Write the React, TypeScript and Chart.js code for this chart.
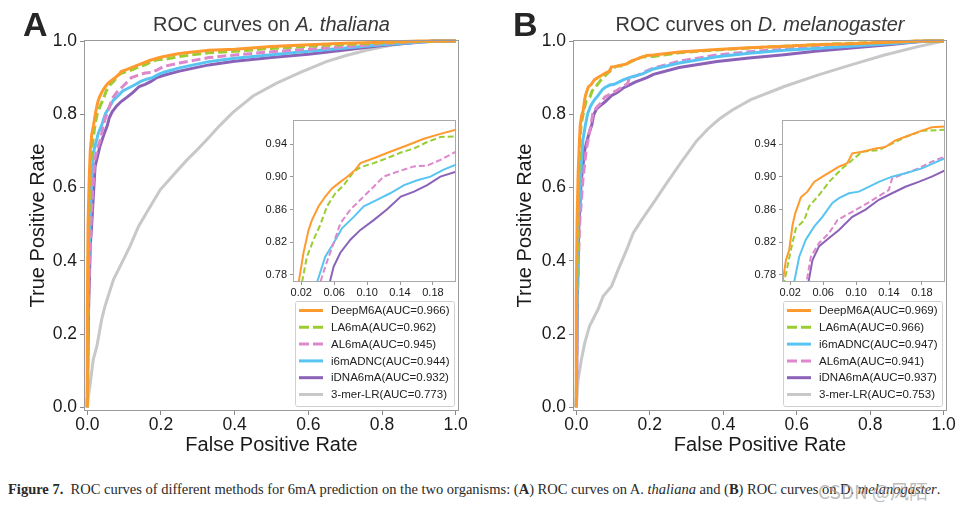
import React, { useEffect, useRef } from 'react';
import { Chart, registerables } from 'chart.js';

Chart.register(...registerables);

const FONT = '"Liberation Sans", Arial, Helvetica, sans-serif';

// ---------- tick labels ----------
const mainTicks = [0, 0.2, 0.4, 0.6, 0.8, 1.0];
const insetXTicks = [0.02, 0.06, 0.1, 0.14, 0.18];
const insetYTicks = [0.78, 0.82, 0.86, 0.9, 0.94];

// ---------- legends ----------
const labelsA = ['DeepM6A(AUC=0.966)', 'LA6mA(AUC=0.962)', 'AL6mA(AUC=0.945)', 'i6mADNC(AUC=0.944)', 'iDNA6mA(AUC=0.932)', '3-mer-LR(AUC=0.773)'];
const labelsB = ['DeepM6A(AUC=0.969)', 'LA6mA(AUC=0.966)', 'i6mADNC(AUC=0.947)', 'AL6mA(AUC=0.941)', 'iDNA6mA(AUC=0.937)', '3-mer-LR(AUC=0.753)'];

// ---------- Panel A (A. thaliana) ----------
const fprA_DeepM6A = [0, 0, 0.002, 0.005, 0.008, 0.012, 0.0168, 0.0228, 0.0289, 0.033, 0.0411, 0.0492, 0.0574, 0.0675, 0.0756, 0.0858, 0.0919, 0.108, 0.128, 0.149, 0.169, 0.189, 0.208, 0.25, 0.33, 0.4, 0.5, 0.6, 0.7, 0.8, 0.9, 1];
const tprA_DeepM6A = [0, 0.25, 0.5, 0.62, 0.7, 0.745, 0.77, 0.807, 0.835, 0.847, 0.864, 0.876, 0.886, 0.894, 0.9, 0.909, 0.917, 0.923, 0.931, 0.939, 0.947, 0.953, 0.958, 0.966, 0.975, 0.978, 0.985, 0.99, 0.994, 0.997, 1, 1];

const fprA_LA6mA = [0, 0.001, 0.004, 0.008, 0.012, 0.016, 0.0208, 0.0269, 0.035, 0.0431, 0.0513, 0.0614, 0.0716, 0.0838, 0.0919, 0.108, 0.124, 0.141, 0.157, 0.173, 0.189, 0.208, 0.25, 0.33, 0.4, 0.5, 0.6, 0.7, 0.8, 0.9, 1];
const tprA_LA6mA = [0, 0.3, 0.5, 0.65, 0.703, 0.735, 0.77, 0.802, 0.823, 0.841, 0.864, 0.88, 0.89, 0.9066, 0.912, 0.917, 0.923, 0.93, 0.935, 0.943, 0.949, 0.95, 0.958, 0.968, 0.972, 0.98, 0.986, 0.991, 0.995, 0.999, 1];

const fprA_AL6mA = [0, 0.003, 0.01, 0.015, 0.021, 0.03, 0.037, 0.043, 0.0492, 0.0594, 0.0675, 0.0797, 0.0919, 0.108, 0.12, 0.137, 0.157, 0.173, 0.189, 0.208, 0.25, 0.33, 0.4, 0.5, 0.6, 0.7, 0.8, 0.9, 1];
const tprA_AL6mA = [0, 0.3, 0.494, 0.6, 0.68, 0.715, 0.735, 0.77, 0.79, 0.819, 0.843, 0.86, 0.872, 0.888, 0.9004, 0.9066, 0.913, 0.914, 0.921, 0.931, 0.94, 0.955, 0.962, 0.971, 0.978, 0.985, 0.993, 0.998, 1];

const fprA_i6mADNC = [0, 0.002, 0.007, 0.012, 0.016, 0.03, 0.039, 0.0492, 0.0594, 0.0695, 0.0838, 0.096, 0.112, 0.128, 0.145, 0.161, 0.177, 0.193, 0.208, 0.25, 0.33, 0.4, 0.5, 0.6, 0.7, 0.8, 0.9, 0.95, 1];
const tprA_i6mADNC = [0, 0.3, 0.494, 0.62, 0.694, 0.749, 0.77, 0.802, 0.819, 0.837, 0.851, 0.864, 0.872, 0.88, 0.89, 0.896, 0.9004, 0.909, 0.915, 0.927, 0.944, 0.953, 0.963, 0.972, 0.981, 0.99, 0.997, 1, 1];

const fprA_iDNA6mA = [0, 0.003, 0.008, 0.012, 0.021, 0.034, 0.045, 0.0545, 0.0594, 0.0675, 0.0797, 0.0919, 0.108, 0.124, 0.141, 0.157, 0.173, 0.189, 0.208, 0.25, 0.33, 0.4, 0.5, 0.6, 0.7, 0.8, 0.9, 0.94, 1];
const tprA_iDNA6mA = [0, 0.25, 0.44, 0.5, 0.657, 0.712, 0.745, 0.77, 0.79, 0.807, 0.823, 0.835, 0.847, 0.86, 0.876, 0.882, 0.89, 0.9004, 0.9066, 0.918, 0.935, 0.945, 0.955, 0.964, 0.976, 0.988, 0.997, 1, 1];

const fprA_3merLR = [0, 0.003, 0.007, 0.016, 0.026, 0.039, 0.048, 0.071, 0.089, 0.116, 0.139, 0.16, 0.198, 0.23, 0.27, 0.3, 0.333, 0.36, 0.396, 0.45, 0.514, 0.58, 0.649, 0.7, 0.758, 0.82, 0.894, 0.95, 1];
const tprA_3merLR = [0, 0.03, 0.058, 0.13, 0.167, 0.24, 0.276, 0.349, 0.385, 0.44, 0.494, 0.53, 0.594, 0.63, 0.675, 0.705, 0.74, 0.77, 0.806, 0.85, 0.885, 0.915, 0.944, 0.96, 0.975, 0.988, 0.998, 1, 1];

// ---------- Panel B (D. melanogaster) ----------
const fprB_DeepM6A = [0, 0, 0.002, 0.005, 0.009, 0.0107, 0.0148, 0.0188, 0.0228, 0.026, 0.0329, 0.0409, 0.049, 0.0591, 0.0692, 0.0792, 0.0893, 0.0954, 0.1075, 0.1236, 0.1357, 0.1478, 0.1639, 0.18, 0.192, 0.21, 0.28, 0.383, 0.47, 0.566, 0.65, 0.748, 0.85, 0.93, 1];
const tprB_DeepM6A = [0, 0.3, 0.5, 0.64, 0.739, 0.771, 0.798, 0.8106, 0.841, 0.855, 0.875, 0.882, 0.894, 0.9004, 0.9066, 0.9127, 0.917, 0.929, 0.931, 0.935, 0.937, 0.945, 0.951, 0.957, 0.961, 0.962, 0.97, 0.977, 0.982, 0.986, 0.99, 0.993, 0.997, 1, 1];

const fprB_LA6mA = [0, 0.001, 0.004, 0.006, 0.009, 0.0127, 0.0208, 0.0269, 0.037, 0.043, 0.0551, 0.0672, 0.0772, 0.0833, 0.0954, 0.1075, 0.1276, 0.1437, 0.1599, 0.18, 0.21, 0.28, 0.383, 0.47, 0.566, 0.65, 0.748, 0.85, 0.93, 1];
const tprB_LA6mA = [0, 0.3, 0.5, 0.6, 0.7, 0.771, 0.8106, 0.837, 0.847, 0.864, 0.878, 0.894, 0.9045, 0.9106, 0.921, 0.931, 0.933, 0.941, 0.949, 0.9567, 0.958, 0.968, 0.976, 0.981, 0.986, 0.99, 0.994, 0.997, 1, 1];

const fprB_i6mADNC = [0, 0.002, 0.005, 0.011, 0.018, 0.0248, 0.0309, 0.0389, 0.049, 0.0591, 0.0712, 0.0792, 0.0913, 0.1034, 0.1196, 0.1276, 0.1437, 0.1599, 0.18, 0.21, 0.28, 0.383, 0.47, 0.566, 0.65, 0.748, 0.85, 0.95, 1];
const tprB_i6mADNC = [0, 0.3, 0.5, 0.621, 0.73, 0.771, 0.802, 0.823, 0.839, 0.851, 0.868, 0.874, 0.88, 0.882, 0.89, 0.894, 0.9004, 0.9045, 0.9106, 0.924, 0.94, 0.957, 0.967, 0.975, 0.98, 0.986, 0.993, 1, 1];

const fprB_AL6mA = [0, 0.003, 0.009, 0.018, 0.027, 0.035, 0.0398, 0.045, 0.0551, 0.0672, 0.0772, 0.0913, 0.1075, 0.1236, 0.1397, 0.1437, 0.1599, 0.176, 0.192, 0.21, 0.28, 0.383, 0.47, 0.566, 0.65, 0.748, 0.85, 0.95, 1];
const tprB_AL6mA = [0, 0.3, 0.5, 0.621, 0.703, 0.745, 0.771, 0.802, 0.819, 0.831, 0.847, 0.855, 0.864, 0.874, 0.884, 0.898, 0.9045, 0.9106, 0.9188, 0.926, 0.945, 0.962, 0.971, 0.978, 0.983, 0.988, 0.994, 1, 1];

const fprB_iDNA6mA = [0, 0.003, 0.007, 0.0137, 0.023, 0.035, 0.0422, 0.047, 0.0551, 0.0672, 0.0792, 0.0954, 0.1115, 0.1276, 0.1437, 0.1599, 0.176, 0.192, 0.21, 0.28, 0.383, 0.47, 0.566, 0.65, 0.748, 0.85, 0.93, 0.97, 1];
const tprB_iDNA6mA = [0, 0.3, 0.5, 0.621, 0.703, 0.75, 0.771, 0.798, 0.815, 0.825, 0.835, 0.851, 0.86, 0.872, 0.88, 0.888, 0.894, 0.9004, 0.909, 0.928, 0.944, 0.954, 0.963, 0.972, 0.981, 0.99, 0.998, 1, 1];

const fprB_3merLR = [0, 0, 0.005, 0.014, 0.023, 0.036, 0.059, 0.073, 0.096, 0.114, 0.137, 0.155, 0.178, 0.21, 0.246, 0.29, 0.328, 0.36, 0.39, 0.425, 0.475, 0.566, 0.657, 0.748, 0.839, 0.93, 1];
const tprB_3merLR = [0, 0.004, 0.076, 0.131, 0.176, 0.222, 0.267, 0.303, 0.331, 0.376, 0.43, 0.476, 0.512, 0.558, 0.612, 0.676, 0.728, 0.762, 0.788, 0.812, 0.84, 0.876, 0.907, 0.935, 0.962, 0.985, 1];

const fprsA = [fprA_DeepM6A, fprA_LA6mA, fprA_AL6mA, fprA_i6mADNC, fprA_iDNA6mA, fprA_3merLR];
const tprsA = [tprA_DeepM6A, tprA_LA6mA, tprA_AL6mA, tprA_i6mADNC, tprA_iDNA6mA, tprA_3merLR];
const fprsB = [fprB_DeepM6A, fprB_LA6mA, fprB_i6mADNC, fprB_AL6mA, fprB_iDNA6mA, fprB_3merLR];
const tprsB = [tprB_DeepM6A, tprB_LA6mA, tprB_i6mADNC, tprB_AL6mA, tprB_iDNA6mA, tprB_3merLR];

// ---------- styles ----------
const STYLE: Record<string, { color: string; dashed: boolean }> = {
  DeepM6A: { color: '#FF9A2E', dashed: false },
  LA6mA: { color: '#9ACD32', dashed: true },
  AL6mA: { color: '#DD88CC', dashed: true },
  i6mADNC: { color: '#58C4F2', dashed: false },
  iDNA6mA: { color: '#8B62B8', dashed: false },
  '3-mer-LR': { color: '#C8C8C8', dashed: false },
};

function makeDatasets(labels: string[], fprs: number[][], tprs: number[][], inset: boolean) {
  return labels.map((label, i) => {
    const st = STYLE[label.split('(')[0]];
    return {
      label,
      data: fprs[i].map((x, j) => ({ x, y: tprs[i][j] })),
      borderColor: st.color,
      backgroundColor: st.color,
      borderWidth: inset ? 2 : 3,
      borderDash: st.dashed ? (inset ? [6, 3] : [9, 4]) : [],
      pointRadius: 0,
      tension: 0,
      fill: false,
      clip: inset ? 0 : 2,
    };
  });
}

const framePlugin = {
  id: 'frame',
  beforeDraw(chart: any, _a: any, opts: any) {
    if (opts && opts.fill) {
      const { ctx, chartArea: c } = chart;
      ctx.save();
      ctx.fillStyle = '#ffffff';
      ctx.fillRect(c.left, c.top, c.right - c.left, c.bottom - c.top);
      ctx.restore();
    }
  },
  afterDatasetsDraw(chart: any, _a: any, opts: any) {
    const { ctx, chartArea: c } = chart;
    ctx.save();
    ctx.strokeStyle = (opts && opts.color) || '#999';
    ctx.lineWidth = 1;
    ctx.strokeRect(Math.round(c.left) + 0.5, Math.round(c.top) + 0.5, Math.round(c.right - c.left) - 1, Math.round(c.bottom - c.top) - 1);
    ctx.restore();
  },
};

const legendPlugin = {
  id: 'boxLegend',
  afterDraw(chart: any, _a: any, opts: any) {
    if (!opts || !opts.show) return;
    const { ctx, chartArea: c } = chart;
    const w = 159, h = 105;
    const right = c.right - 5, bottom = c.bottom - 5;
    const left = right - w, top = bottom - h;
    ctx.save();
    ctx.fillStyle = 'rgba(255,255,255,0.85)';
    ctx.strokeStyle = '#d0d0d0';
    ctx.lineWidth = 1;
    const r = 2;
    ctx.beginPath();
    ctx.moveTo(left + r + 0.5, top + 0.5);
    ctx.lineTo(right - r + 0.5, top + 0.5);
    ctx.quadraticCurveTo(right + 0.5, top + 0.5, right + 0.5, top + r + 0.5);
    ctx.lineTo(right + 0.5, bottom - r + 0.5);
    ctx.quadraticCurveTo(right + 0.5, bottom + 0.5, right - r + 0.5, bottom + 0.5);
    ctx.lineTo(left + r + 0.5, bottom + 0.5);
    ctx.quadraticCurveTo(left + 0.5, bottom + 0.5, left + 0.5, bottom - r + 0.5);
    ctx.lineTo(left + 0.5, top + r + 0.5);
    ctx.quadraticCurveTo(left + 0.5, top + 0.5, left + r + 0.5, top + 0.5);
    ctx.closePath();
    ctx.fill();
    ctx.stroke();
    ctx.font = `11.5px ${FONT}`;
    ctx.textBaseline = 'middle';
    ctx.textAlign = 'left';
    chart.data.datasets.forEach((ds: any, i: number) => {
      const y = top + 9.5 + i * 16.8;
      ctx.strokeStyle = ds.borderColor;
      ctx.lineWidth = 3;
      ctx.setLineDash(ds.borderDash && ds.borderDash.length ? [10, 4] : []);
      ctx.beginPath();
      ctx.moveTo(left + 4, y);
      ctx.lineTo(left + 28, y);
      ctx.stroke();
      ctx.setLineDash([]);
      ctx.fillStyle = '#222';
      ctx.fillText(ds.label, left + 36, y + 0.5);
    });
    ctx.restore();
  },
};

const titlePlugin = {
  id: 'panelTitle',
  afterDraw(chart: any, _a: any, opts: any) {
    if (!opts || !opts.letter) return;
    const { ctx, chartArea: c } = chart;
    ctx.save();
    ctx.fillStyle = '#262626';
    ctx.font = `bold 34px ${FONT}`;
    ctx.textBaseline = 'alphabetic';
    ctx.textAlign = 'left';
    ctx.fillText(opts.letter, opts.letterX, 36);
    const parts: { t: string; it: boolean }[] = opts.parts;
    const fontOf = (it: boolean) => `${it ? 'italic ' : ''}20px ${FONT}`;
    let total = 0;
    parts.forEach((p) => { ctx.font = fontOf(p.it); total += ctx.measureText(p.t).width; });
    let x = (c.left + c.right) / 2 - total / 2;
    ctx.fillStyle = '#383838';
    parts.forEach((p) => {
      ctx.font = fontOf(p.it);
      ctx.fillText(p.t, x, 31);
      x += ctx.measureText(p.t).width;
    });
    ctx.restore();
  },
};

function mainConfig(datasets: any[], o: { yWidth: number; padRight: number; yTitlePad: number; letter: string; letterX: number; parts: any[] }) {
  const tickFont = { family: FONT, size: 17.5 };
  const titleFont = { family: FONT, size: 20 };
  return {
    type: 'line' as const,
    data: { datasets },
    options: {
      animation: false as const,
      responsive: false,
      maintainAspectRatio: false,
      events: [],
      layout: { padding: { top: 40, right: o.padRight, left: 0, bottom: 0 } },
      plugins: {
        legend: { display: false },
        tooltip: { enabled: false },
        frame: { color: '#9a9a9a' },
        boxLegend: { show: true },
        panelTitle: { letter: o.letter, letterX: o.letterX, parts: o.parts },
      },
      scales: {
        x: {
          type: 'linear' as const,
          min: -0.009,
          max: 1.009,
          afterFit: (s: any) => { s.height = 59; },
          afterBuildTicks: (s: any) => { s.ticks = mainTicks.map((v) => ({ value: v })); },
          ticks: { callback: (v: any) => Number(v).toFixed(1), font: tickFont, color: '#1a1a1a', padding: 0, maxRotation: 0, autoSkip: false },
          grid: { display: true, drawOnChartArea: false, drawTicks: true, tickLength: 4, tickColor: '#888' },
          border: { display: false },
          title: { display: true, text: 'False Positive Rate', font: titleFont, color: '#1a1a1a', padding: { top: 0, bottom: 13 } },
        },
        y: {
          type: 'linear' as const,
          min: -0.01,
          max: 1.003,
          afterFit: (s: any) => { s.width = o.yWidth; },
          afterBuildTicks: (s: any) => { s.ticks = mainTicks.map((v) => ({ value: v })); },
          ticks: { callback: (v: any) => Number(v).toFixed(1), font: tickFont, color: '#1a1a1a', padding: 3, autoSkip: false },
          grid: { display: true, drawOnChartArea: false, drawTicks: true, tickLength: 4, tickColor: '#888' },
          border: { display: false },
          title: { display: true, text: 'True Positive Rate', font: titleFont, color: '#1a1a1a', padding: { top: o.yTitlePad, bottom: 0 } },
        },
      },
    },
    plugins: [framePlugin, legendPlugin, titlePlugin],
  };
}

function insetConfig(datasets: any[], o: { yWidth: number; padRight: number }) {
  const tickFont = { family: FONT, size: 11 };
  return {
    type: 'line' as const,
    data: { datasets },
    options: {
      animation: false as const,
      responsive: false,
      maintainAspectRatio: false,
      events: [],
      layout: { padding: { top: 10, right: o.padRight, left: 0, bottom: 0 } },
      plugins: {
        legend: { display: false },
        tooltip: { enabled: false },
        frame: { color: '#aaaaaa', fill: true },
      },
      scales: {
        x: {
          type: 'linear' as const,
          min: 0.01,
          max: 0.208,
          afterFit: (s: any) => { s.height = 23; },
          afterBuildTicks: (s: any) => { s.ticks = insetXTicks.map((v) => ({ value: v })); },
          ticks: { callback: (v: any) => Number(v).toFixed(2), font: tickFont, color: '#1a1a1a', padding: 1, maxRotation: 0, autoSkip: false },
          grid: { display: true, drawOnChartArea: false, drawTicks: true, tickLength: 3, tickColor: '#999' },
          border: { display: false },
        },
        y: {
          type: 'linear' as const,
          min: 0.771,
          max: 0.97,
          afterFit: (s: any) => { s.width = o.yWidth; },
          afterBuildTicks: (s: any) => { s.ticks = insetYTicks.map((v) => ({ value: v })); },
          ticks: { callback: (v: any) => Number(v).toFixed(2), font: tickFont, color: '#1a1a1a', padding: 3, autoSkip: false },
          grid: { display: true, drawOnChartArea: false, drawTicks: true, tickLength: 3, tickColor: '#999' },
          border: { display: false },
        },
      },
    },
    plugins: [framePlugin],
  };
}

export default function App() {
  const mainA = useRef<HTMLCanvasElement>(null);
  const mainB = useRef<HTMLCanvasElement>(null);
  const insA = useRef<HTMLCanvasElement>(null);
  const insB = useRef<HTMLCanvasElement>(null);

  useEffect(() => {
    const charts: Chart[] = [];
    charts.push(new Chart(mainA.current as HTMLCanvasElement, mainConfig(makeDatasets(labelsA, fprsA, tprsA, false), {
      yWidth: 84, padRight: 24, yTitlePad: 26, letter: 'A', letterX: 23,
      parts: [{ t: 'ROC curves on ', it: false }, { t: 'A. thaliana', it: true }],
    }) as any));
    charts.push(new Chart(mainB.current as HTMLCanvasElement, mainConfig(makeDatasets(labelsB, fprsB, tprsB, false), {
      yWidth: 90, padRight: 19, yTitlePad: 30, letter: 'B', letterX: 30,
      parts: [{ t: 'ROC curves on ', it: false }, { t: 'D. melanogaster', it: true }],
    }) as any));
    charts.push(new Chart(insA.current as HTMLCanvasElement, insetConfig(makeDatasets(labelsA, fprsA, tprsA, true), { yWidth: 43, padRight: 6 }) as any));
    charts.push(new Chart(insB.current as HTMLCanvasElement, insetConfig(makeDatasets(labelsB, fprsB, tprsB, true), { yWidth: 44, padRight: 8 }) as any));
    return () => charts.forEach((c) => c.destroy());
  }, []);

  const abs = (l: number, t: number, w: number, h: number): React.CSSProperties => ({ position: 'absolute', left: l, top: t, width: w, height: h });

  return (
    <div style={{ position: 'fixed', left: 0, top: 0, width: 966, height: 512, background: '#fff', overflow: 'hidden' }}>
      <canvas ref={mainA} width={483} height={470} style={abs(0, 0, 483, 470)} />
      <canvas ref={mainB} width={483} height={470} style={abs(483, 0, 483, 470)} />
      <canvas ref={insA} width={212} height={195} style={abs(250, 110, 212, 195)} />
      <canvas ref={insB} width={215} height={195} style={abs(738, 110, 215, 195)} />
      <div style={{ position: 'absolute', left: 8, top: 481, fontFamily: '"Liberation Serif", "Times New Roman", serif', fontSize: 14.5, color: '#2a2a2a', whiteSpace: 'nowrap' }}>
        <b>Figure 7.</b>&nbsp; ROC curves of different methods for 6mA prediction on the two organisms: (<b>A</b>) ROC curves on A. <i>thaliana</i> and (<b>B</b>) ROC curves on D. <i>melanogaster</i>.
      </div>
      <div style={{ position: 'absolute', left: 818, top: 477, fontFamily: '"Noto Sans CJK SC", "Noto Sans", sans-serif', fontSize: 19, color: 'rgba(160,160,160,0.7)', whiteSpace: 'nowrap' }}>
        CSDN @风陌
      </div>
    </div>
  );
}
